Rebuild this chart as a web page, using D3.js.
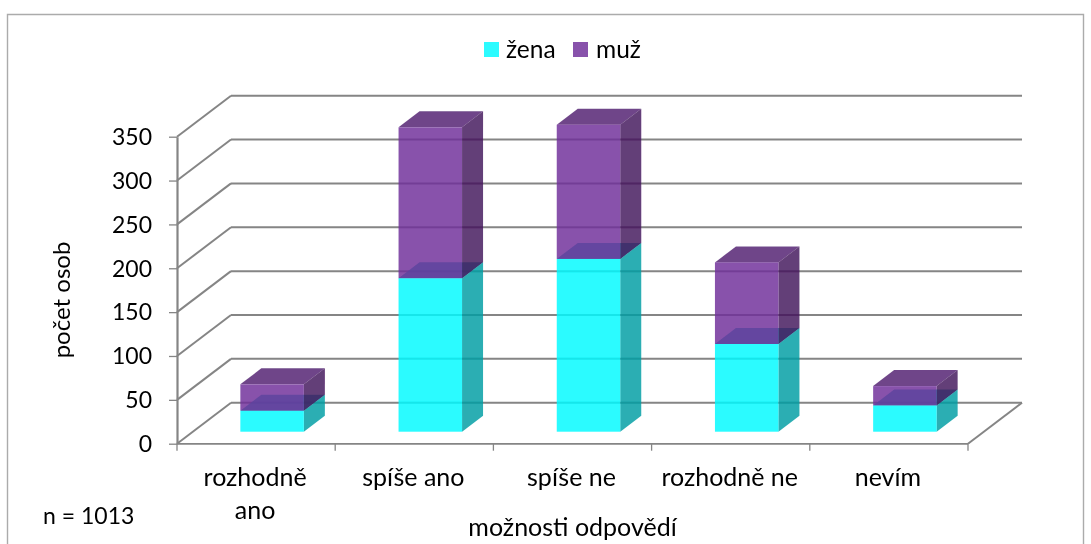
<!DOCTYPE html>
<html><head><meta charset="utf-8">
<script src="https://cdn.jsdelivr.net/npm/d3@7"></script>
<style>
html,body{margin:0;padding:0;background:#fff}
svg{display:block}
text{font-family:Lato,"Open Sans",sans-serif;fill:#000}
</style></head><body>
<script>
const categories = ["rozhodně ano","spíše ano","spíše ne","rozhodně ne","nevím"];
const categoryLines = [["rozhodně","ano"],["spíše ano"],["spíše ne"],["rozhodně ne"],["nevím"]];
const zena = [24,175,197,100,30];
const muz = [30,172,153,93,22];
const yTicks = [0,50,100,150,200,250,300,350];
const seriesNames = ["žena","muž"];
const legendColors = ["#2cfbff","#8852ab"];
const frontColors = ["#00faff","#702f9a"];
const sideColors = ["#009ea3","#45165d"];
const topColors = ["#00abb1","#522271"];
const barAlpha = 0.83;

const W=1091,H=544;
const svg=d3.select("body").append("svg").attr("width",W).attr("height",H);
const defs=svg.append("defs");
defs.append("filter").attr("id","soft").append("feGaussianBlur").attr("stdDeviation",0.45);
defs.append("filter").attr("id","softT").append("feGaussianBlur").attr("stdDeviation",0.3);

// frame
svg.append("path").attr("d",`M7.5,${H} V14.5 H1083.5 V${H}`).attr("fill","none").attr("stroke","#ababab").attr("stroke-width",1.4);

const x0=177,x1=968,yB=443.7,yT=136.7;
const dx=54,dy=-41;          // wall depth
const bdx=21,bdy=-16;        // bar depth
const inX=16,inY=-12;        // bar offset from front edge of floor
const barW=63.5;
const x=d3.scaleBand().domain(categories).range([x0,x1]);
const y=d3.scaleLinear().domain([0,350]).range([yB,yT]);

const g=svg.append("g").attr("filter","url(#soft)");
const gridC="#858585",sw=2;

// walls and floor
g.append("g").selectAll("line").data(yTicks).join("line")
  .attr("x1",x0+dx).attr("x2",x1+dx)
  .attr("y1",d=>y(d)+dy).attr("y2",d=>y(d)+dy)
  .attr("stroke",gridC).attr("stroke-width",sw);
g.append("g").selectAll("line").data(yTicks).join("line")
  .attr("x1",x0).attr("x2",x0+dx)
  .attr("y1",d=>y(d)).attr("y2",d=>y(d)+dy)
  .attr("stroke",gridC).attr("stroke-width",sw);
g.append("line").attr("x1",x1).attr("x2",x1+dx).attr("y1",yB).attr("y2",yB+dy).attr("stroke",gridC).attr("stroke-width",sw);

// axes
const axisY=d3.axisLeft(y).tickValues(yTicks).tickSize(8).tickSizeOuter(0);
const ay=svg.append("g").attr("transform",`translate(${x0},0)`).attr("filter","url(#soft)").call(axisY);
ay.selectAll("line").attr("stroke",gridC).attr("stroke-width",1.3);
ay.select(".domain").attr("stroke",gridC).attr("stroke-width",2.2);
const ayLab=svg.append("g").attr("filter","url(#softT)");
ayLab.selectAll("text").data(yTicks).join("text").attr("x",x0-25).attr("y",d=>y(d)).attr("dy","0.36em")
  .attr("text-anchor","end").attr("font-size",23).text(d=>d);
ay.selectAll("text").remove();

const xTicks=d3.range(categories.length+1).map(i=>x0+i*x.step());
const ax=svg.append("g").attr("filter","url(#soft)");
ax.append("line").attr("x1",x0).attr("x2",x1).attr("y1",yB).attr("y2",yB).attr("stroke",gridC).attr("stroke-width",2.2);
ax.selectAll(".t").data(xTicks).join("line").attr("class","t")
  .attr("x1",d=>d).attr("x2",d=>d).attr("y1",yB).attr("y2",yB+7).attr("stroke",gridC).attr("stroke-width",1.3);

// bars
const h=v=>yB-y(v);
function box(i,base,val,s){
  const l=x(categories[i])+(x.step()-barW)/2+inX, r=l+barW;
  const yb=yB+inY-h(base), yt=yb-h(val);
  const b=g.append("g").attr("class","bar").attr("opacity",1);
  b.append("polygon").attr("points",[[l,yt],[l+bdx,yt+bdy],[r+bdx,yt+bdy],[r,yt]].join(" ")).attr("fill",topColors[s]).attr("opacity",barAlpha);
  b.append("polygon").attr("points",[[r,yb],[r+bdx,yb+bdy],[r+bdx,yt+bdy],[r,yt]].join(" ")).attr("fill",sideColors[s]).attr("opacity",barAlpha);
  b.append("rect").attr("x",l).attr("y",yt).attr("width",barW).attr("height",yb-yt).attr("fill",frontColors[s]).attr("opacity",barAlpha);
}
categories.forEach((c,i)=>{ box(i,0,zena[i],0); box(i,zena[i],muz[i],1); });

// category labels
const fs=25;
const txt=svg.append("g").attr("filter","url(#softT)");
const lab=txt.append("g").attr("font-size",fs).attr("text-anchor","middle");
categories.forEach((c,i)=>{
  const t=lab.append("text");
  categoryLines[i].forEach((s,j)=>t.append("tspan").attr("x",x(c)+x.step()/2-1).attr("y",486+j*33).text(s));
});

// titles
txt.append("text").attr("x",572.5).attr("y",536).attr("text-anchor","middle").attr("font-size",fs).text("možnosti odpovědí");
txt.append("text").attr("transform","translate(70,300) rotate(-90)").attr("text-anchor","middle").attr("font-size",24).text("počet osob");
txt.append("text").attr("x",43).attr("y",524).attr("font-size",23).text("n = 1013");

// legend
const legX=[484,573],legT=[506,596];
seriesNames.forEach((n,i)=>{
  svg.append("rect").attr("x",legX[i]).attr("y",42).attr("width",15).attr("height",15).attr("fill",legendColors[i]);
  txt.append("text").attr("x",legT[i]).attr("y",58).attr("font-size",24.5).text(n);
});
</script></body></html>
